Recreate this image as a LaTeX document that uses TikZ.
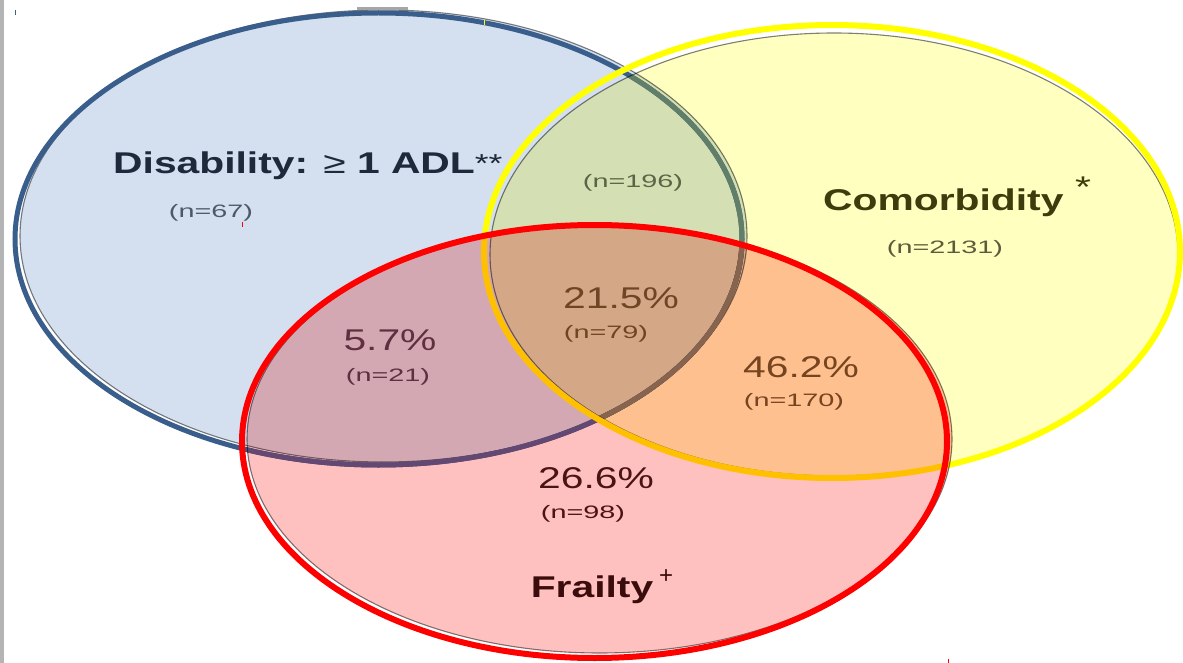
\documentclass[tikz,border=0pt]{standalone}
\usepackage{fontspec}
\setmainfont{Liberation Sans}

% horizontally widened lettering
\newcommand{\widetxt}[1]{\scalebox{1.36}[1]{#1}}
\newcommand{\widesmall}[1]{\scalebox{1.6}[1]{#1}}

\definecolor{edgegray}{HTML}{B4B4B4}
\definecolor{blueFill}{HTML}{D4E0EF}
\definecolor{blueLine}{HTML}{3A5E8C}
\definecolor{blueLineRed}{HTML}{626098}
\definecolor{blueLineYel}{HTML}{607E6A}
\definecolor{blueLineBoth}{HTML}{88866A}
\definecolor{yellowFill}{HTML}{FFFFC0}
\definecolor{yellowLine}{HTML}{FFFF00}
\definecolor{redFill}{HTML}{FFC0C0}
\definecolor{redLine}{HTML}{FF0000}
\definecolor{disTxt}{HTML}{1E2A3C}
\definecolor{disCnt}{HTML}{4E5868}
\definecolor{dcCnt}{HTML}{5C6448}
\definecolor{comTxt}{HTML}{3C3C0C}
\definecolor{comCnt}{HTML}{5C5C3C}
\definecolor{allTxt}{HTML}{6E4626}
\definecolor{dfTxt}{HTML}{5E3040}
\definecolor{cfTxt}{HTML}{774420}
\definecolor{frCnt}{HTML}{4A1414}
\definecolor{frTxt}{HTML}{3A0C0C}

\begin{document}
\begin{tikzpicture}[x=1pt,y=-1pt,
  ghost/.style={draw=black, draw opacity=0.5, line width=1.1pt},
  bluering/.style={line width=5pt},
  setlabel/.style={font=\fontsize{30}{30}\selectfont\bfseries, inner sep=0pt, anchor=base},
  pct/.style={font=\fontsize{30}{30}\selectfont, inner sep=0pt, anchor=base},
  cnt/.style={font=\fontsize{18}{18}\selectfont, inner sep=0pt, anchor=base},
  supmark/.style={font=\fontsize{24}{24}\selectfont, inner sep=0pt, anchor=base}]
\useasboundingbox (0,0) rectangle (1183,663);
\fill[white] (0,0) rectangle (1183,663);
\fill[edgegray] (0,0) rectangle (4,663);

% ellipse outlines used more than once
\def\blueRing{(378.5,239) ellipse [x radius=363.5, y radius=226]}
\def\yelArea{(834,254.5) ellipse [x radius=344, y radius=221.5]}
\def\redArea{(599.5,439) ellipse [x radius=352.5, y radius=214]}

% Disability set
\fill[blueFill] (383.5,236) ellipse [x radius=363.5, y radius=226];
\draw[ghost] (383.5,236) ellipse [x radius=363.5, y radius=226];
\draw[blueLine, bluering] \blueRing;
\begin{scope}
  \clip \redArea;
  \draw[blueLineRed, bluering] \blueRing;
\end{scope}
\draw[gray!70, line width=2.5pt] (357,8.5) -- (408,8.5);

% Comorbidity set
\fill[yellowFill, blend mode=multiply] \yelArea;
\begin{scope}
  \clip \yelArea;
  \draw[blueLineYel, bluering] \blueRing;
  \clip \redArea;
  \draw[blueLineBoth, bluering] \blueRing;
\end{scope}
\draw[ghost, blend mode=multiply] \yelArea;
\draw[yellowLine, line width=6pt] (832,251.5) ellipse [x radius=348, y radius=226.5];

% Frailty set
\fill[redFill, blend mode=multiply] \redArea;
\draw[ghost, blend mode=multiply] \redArea;
\draw[redLine, line width=6pt] (594.5,441.5) ellipse [x radius=352.5, y radius=216.5];

% small stray ticks
\draw[blueLine, line width=1pt] (15,10) -- (15,15);
\draw[yellowLine, line width=1pt] (484,20) -- (484,25);
\draw[redLine, line width=0.8pt] (242,222) -- (242,227);
\draw[redLine, line width=0.8pt] (948,659) -- (948,663);

% labels
\node[setlabel, anchor=base west, text=disTxt] (disab) at (113,174)
  {\widetxt{Disability: {\mdseries\symbol{"2265}} 1 ADL{\mdseries\raisebox{1pt}{\fontsize{26}{26}\selectfont **}}}};
\node[cnt, text=disCnt] (n67) at (211,218) {\widesmall{(n=67)}};
\node[cnt, text=dcCnt] (n196) at (633,188) {\widesmall{(n=196)}};

\node[setlabel, anchor=base west, text=comTxt] (comorb) at (823,211) {\widetxt{Comorbidity}};
\node[pct, text=comTxt] (comstar) at (1083,198) {\widetxt{*}};
\node[cnt, text=comCnt] (n2131) at (945,253) {\widesmall{(n=2131)}};

\node[pct, text=allTxt] (p215) at (621,308) {\widetxt{21.5\%}};
\node[cnt, text=allTxt] (n79) at (606,338) {\widesmall{(n=79)}};

\node[pct, text=dfTxt] (p57) at (390,350) {\widetxt{5.7\%}};
\node[cnt, text=dfTxt] (n21) at (388,381) {\widesmall{(n=21)}};

\node[pct, text=cfTxt] (p462) at (801,377) {\widetxt{46.2\%}};
\node[cnt, text=cfTxt] (n170) at (794,406) {\widesmall{(n=170)}};

\node[pct, text=frCnt] (p266) at (596,488) {\widetxt{26.6\%}};
\node[cnt, text=frCnt] (n98) at (583,518) {\widesmall{(n=98)}};

\node[setlabel, text=frTxt] (frail) at (592,597) {\widetxt{Frailty}};
\node[supmark, text=frTxt] (frplus) at (666,583) {+};
\end{tikzpicture}
\end{document}
